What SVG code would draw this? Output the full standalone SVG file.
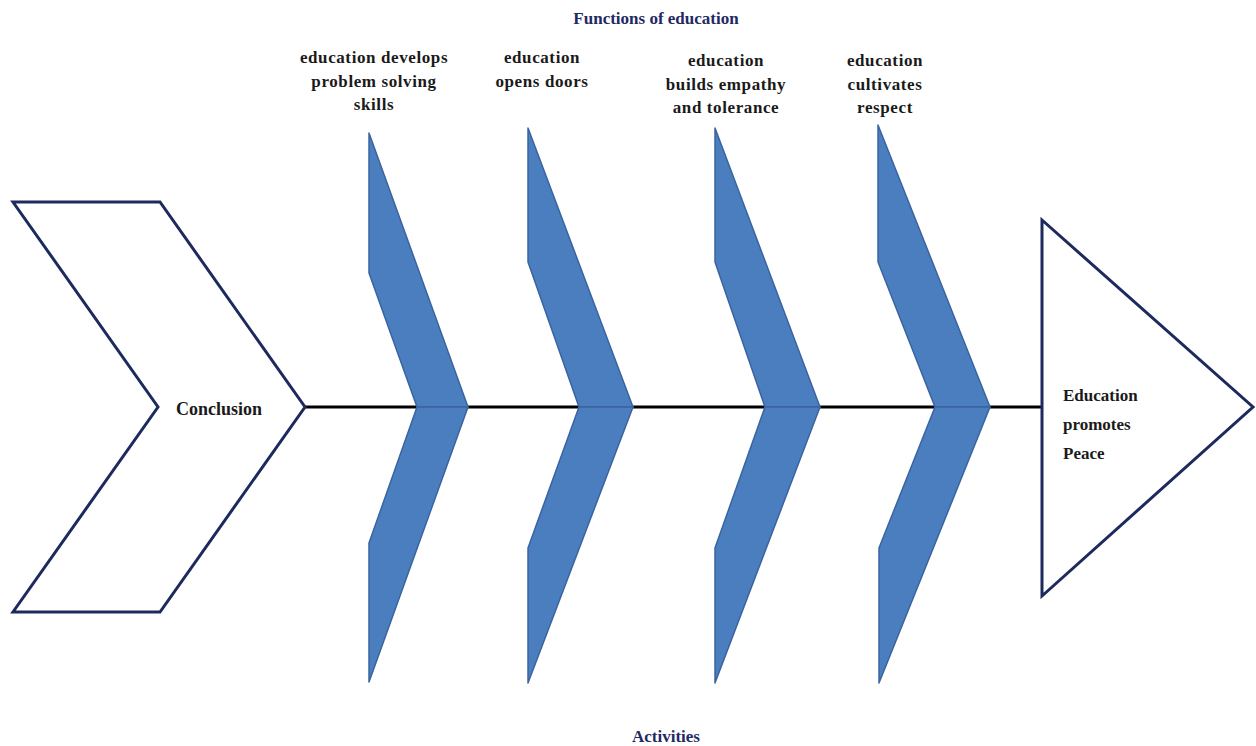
<svg xmlns="http://www.w3.org/2000/svg" width="1256" height="746" viewBox="0 0 1256 746">
<style>
.bone{fill:#4a7ebf;stroke:#3a64a0;stroke-width:1.5;stroke-linejoin:round}
.outline{fill:#fff;stroke:#1c2a5e;stroke-width:3;stroke-linejoin:miter}
.lbl{font-family:"Liberation Serif","Times New Roman",serif;font-weight:bold;font-size:17px;letter-spacing:0.6px;fill:#1a1a1a;text-anchor:middle}
.head{font-family:"Liberation Serif","Times New Roman",serif;font-weight:bold;font-size:17px;fill:#1f2a63;text-anchor:middle}
.big{font-family:"Liberation Serif","Times New Roman",serif;font-weight:bold;font-size:17px;fill:#1a1a1a}
</style>
<rect width="1256" height="746" fill="#fff"/>
<g id="connectors">
<line x1="305" y1="407" x2="1042" y2="407" stroke="#000" stroke-width="3"/>
</g>
<g id="conclusion">
<polygon class="outline" points="13,202 160,202 305,407 160,612 13,612 158,407"/>
<text class="big" x="219" y="415" style="font-size:18px;text-anchor:middle">Conclusion</text>
</g>
<g id="effect">
<polygon class="outline" points="1042,220 1253,407 1042,596"/>
<text class="big" x="1063" y="401">Education</text>
<text class="big" x="1063" y="430">promotes</text>
<text class="big" x="1063" y="459">Peace</text>
</g>
<g id="bone1">
<polygon class="bone" points="369,133 468,407 417,407 369,273"/>
<polygon class="bone" points="417,407 468,407 369,682 369,543"/>
</g>
<g id="bone2">
<polygon class="bone" points="528,128 633,407 579,407 528,262"/>
<polygon class="bone" points="579,407 633,407 528,683 528,548"/>
</g>
<g id="bone3">
<polygon class="bone" points="715,128 820,407 765,407 715,262"/>
<polygon class="bone" points="765,407 820,407 715,683 715,548"/>
</g>
<g id="bone4">
<polygon class="bone" points="878,125 990,407 935,407 878,262"/>
<polygon class="bone" points="935,407 990,407 879,683 879,548"/>
</g>
<g id="title">
<text class="head" x="656" y="24">Functions of education</text>
</g>
<g id="label1">
<text class="lbl" x="374" y="63">education develops</text>
<text class="lbl" x="374" y="87">problem solving</text>
<text class="lbl" x="374" y="110">skills</text>
</g>
<g id="label2">
<text class="lbl" x="542" y="63">education</text>
<text class="lbl" x="542" y="87">opens doors</text>
</g>
<g id="label3">
<text class="lbl" x="726" y="66">education</text>
<text class="lbl" x="726" y="90">builds empathy</text>
<text class="lbl" x="726" y="113">and tolerance</text>
</g>
<g id="label4">
<text class="lbl" x="885" y="66">education</text>
<text class="lbl" x="885" y="90">cultivates</text>
<text class="lbl" x="885" y="113">respect</text>
</g>
<g id="footer">
<text class="head" x="666" y="742">Activities</text>
</g>
</svg>
